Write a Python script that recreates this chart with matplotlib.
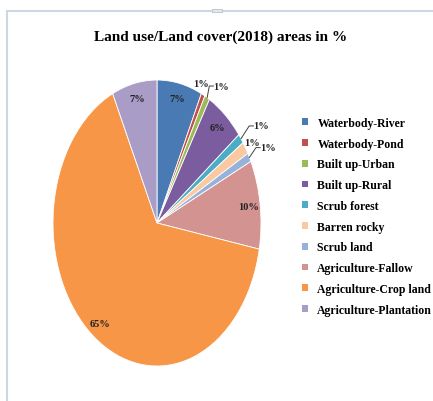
import numpy as np
import matplotlib
matplotlib.use("Agg")
import matplotlib.pyplot as plt
from matplotlib.patches import Patch, Rectangle
from matplotlib.lines import Line2D

# land use classes, clockwise from 12 o'clock
classes = ["Waterbody-River", "Waterbody-Pond", "Built up-Urban", "Built up-Rural",
           "Scrub forest", "Barren rocky", "Scrub land", "Agriculture-Fallow",
           "Agriculture-Crop land", "Agriculture-Plantation"]
shares = [7.0, 0.6, 0.8, 6.0, 1.1, 1.4, 1.0, 10.0, 65.0, 7.0]
colors = ["#4A7AB4", "#C0504D", "#9BBB59", "#7B5C9E", "#4BACC6",
          "#FAC9A2", "#97B2DA", "#D39391", "#F79646", "#A99CC6"]

# where the small-slice labels sit (radius, clockwise angle shift in deg, leader line?)
small_pos = {1: (1.06, -3, False), 2: (1.14, 4, True), 4: (1.21, 2, True),
             5: (1.07, 0, False), 6: (1.19, 1, True)}

W, H = 433, 402
fig = plt.figure(figsize=(W / 100, H / 100), dpi=100)
serif = "Liberation Serif"

# pie is squashed into an ellipse in the original screenshot
cx, cy, rx, ry = 157, 224, 104, 143
ax = fig.add_axes([(cx - rx) / W, (H - cy - ry) / H, 2 * rx / W, 2 * ry / H])
wedges, _ = ax.pie(shares, colors=colors, startangle=90, counterclock=False,
                   wedgeprops=dict(linewidth=0.6, edgecolor="white"))
ax.set_aspect("auto")
ax.set_xlim(-1, 1)
ax.set_ylim(-1, 1)

for i, w in enumerate(wedges):
    mid = np.deg2rad((w.theta1 + w.theta2) / 2)
    txt = "%.0f%%" % shares[i]
    if i in small_pos:
        r, shift, leader = small_pos[i]
        a = mid - np.deg2rad(shift)
        tx, ty = r * np.cos(a), r * np.sin(a)
        ax.text(tx, ty, txt, ha="center", va="center", fontsize=7.5,
                fontweight="bold", family=serif, color="#222222", clip_on=False)
        if leader:
            ex, ey = np.cos(mid), np.sin(mid)
            kx = tx - 0.075
            ax.add_line(Line2D([ex, kx - 0.04, kx], [ey, ty, ty], color="#404040",
                               lw=0.7, clip_on=False))
    else:
        ax.text(0.89 * np.cos(mid), 0.89 * np.sin(mid), txt, ha="center", va="center",
                fontsize=7.5, fontweight="bold", family=serif, color="#222222")

fig.text(221 / W, 1 - 37 / H, "Land use/Land cover(2018) areas in %", ha="center",
         va="center", fontsize=11, fontweight="bold", family=serif)

handles = [Patch(facecolor=c, edgecolor="none") for c in colors]
fig.legend(handles, classes, loc="upper left", bbox_to_anchor=(302 / W, 1 - 118 / H),
           frameon=False, prop=dict(family=serif, weight="bold", size=8.5),
           handlelength=0.5, handleheight=0.5, handletextpad=0.8,
           labelspacing=0.74, borderpad=0, borderaxespad=0)

# faint window frame from the screenshot
fig.add_artist(Rectangle((7 / W, -0.05), 1.1, 1 - 12 / H + 0.05, transform=fig.transFigure,
                         fill=False, edgecolor="#cdd7e2", lw=1.5))
fig.add_artist(Rectangle((212 / W, 1 - 13 / H), 10 / W, 3 / H, transform=fig.transFigure,
                         facecolor="#e4e8ee", edgecolor="#b8c0ca", lw=0.6))

fig.savefig("out.png", dpi=100)
